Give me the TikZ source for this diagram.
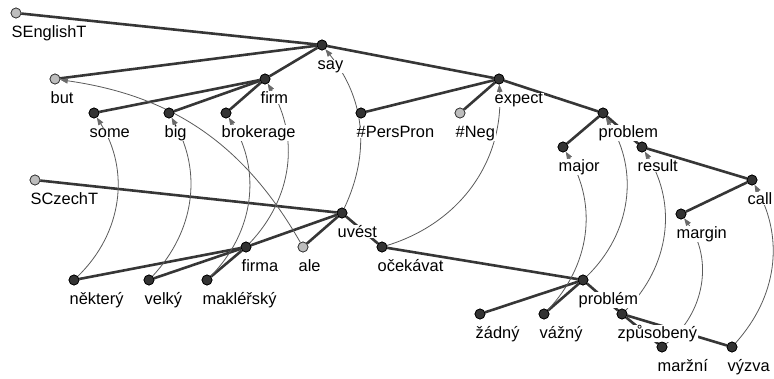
\documentclass[tikz,border=0pt]{standalone}
\usepackage{fontspec}
\setmainfont{Liberation Sans}
\usetikzlibrary{arrows.meta,calc}
\definecolor{edgecol}{HTML}{363636}
\definecolor{nodecol}{HTML}{333333}
\definecolor{graynode}{HTML}{BDBDBD}
\definecolor{arccol}{HTML}{5A5A5A}
\definecolor{tipcol}{HTML}{6A6A6A}
\tikzset{
  tnode/.style={circle,draw=black,line width=0.7pt,fill=nodecol,minimum size=10pt,inner sep=0pt},
  rnode/.style={tnode,fill=graynode,draw=nodecol},
  edge/.style={draw=edgecol,line width=2.6pt},
  alignarc/.style={draw=arccol,line width=0.8pt,-{Triangle[length=7.5pt,width=5.5pt,color=tipcol]}},
  lab/.style={anchor=base west,inner xsep=0.6pt,inner ysep=0.4pt,fill=white,font=\fontsize{16.4}{19}\selectfont,text=black}
}
\newcommand\lbl[2]{\node[lab] (#1-l) at ($(#1)+(-5.1,24.5)$) {#2};}
\begin{document}
\begin{tikzpicture}[x=1pt,y=-1pt]
\useasboundingbox (0,0) rectangle (774,378);
% English tree nodes
\node[rnode] (SEnglishT) at (16,13) {};
\node[tnode] (say) at (322,45) {};
\node[rnode] (but) at (55,79) {};
\node[tnode] (firm) at (265,79) {};
\node[tnode] (some) at (94,113) {};
\node[tnode] (big) at (169,113) {};
\node[tnode] (brokerage) at (226,113) {};
\node[tnode] (perspron) at (361,113) {};
\node[tnode] (expect) at (499,79) {};
\node[rnode] (neg) at (460,113) {};
\node[tnode] (problem) at (603,113) {};
\node[tnode] (major) at (563,147) {};
\node[tnode] (result) at (642,147) {};
\node[tnode] (call) at (752,180) {};
\node[tnode] (margin) at (681,214) {};
% Czech tree nodes
\node[rnode] (SCzechT) at (35,180) {};
\node[tnode] (uvest) at (342,213) {};
\node[tnode] (firma) at (246,247) {};
\node[rnode] (ale) at (303,247) {};
\node[tnode] (ocekavat) at (382,247) {};
\node[tnode] (nektery) at (74,280) {};
\node[tnode] (velky) at (149,280) {};
\node[tnode] (maklersky) at (207,280) {};
\node[tnode] (problemcz) at (583,280) {};
\node[tnode] (zadny) at (480,314) {};
\node[tnode] (vazny) at (544,314) {};
\node[tnode] (zpusobeny) at (622,314) {};
\node[tnode] (marzni) at (662,347) {};
\node[tnode] (vyzva) at (732,347) {};
% edges
\path[edge] (SEnglishT) -- (say);
\path[edge] (say) -- (but);
\path[edge] (say) -- (firm);
\path[edge] (say) -- (expect);
\path[edge] (firm) -- (some);
\path[edge] (firm) -- (big);
\path[edge] (firm) -- (brokerage);
\path[edge] (expect) -- (perspron);
\path[edge] (expect) -- (neg);
\path[edge] (expect) -- (problem);
\path[edge] (problem) -- (major);
\path[edge] (problem) -- (result);
\path[edge] (result) -- (call);
\path[edge] (call) -- (margin);
\path[edge] (SCzechT) -- (uvest);
\path[edge] (uvest) -- (firma);
\path[edge] (uvest) -- (ale);
\path[edge] (uvest) -- (ocekavat);
\path[edge] (firma) -- (nektery);
\path[edge] (firma) -- (velky);
\path[edge] (firma) -- (maklersky);
\path[edge] (ocekavat) -- (problemcz);
\path[edge] (problemcz) -- (zadny);
\path[edge] (problemcz) -- (vazny);
\path[edge] (problemcz) -- (zpusobeny);
\path[edge] (zpusobeny) -- (marzni);
\path[edge] (zpusobeny) -- (vyzva);
% alignment arcs
\path[alignarc] (nektery) to[bend right=39] (some);
\path[alignarc] (velky) to[bend right=36] (big);
\path[alignarc] (maklersky) to[bend right=38] (brokerage);
\path[alignarc] (firma) to[bend right=37] (firm);
\path[alignarc] (ale) to[bend right=26] (but);
\path[alignarc] (uvest) to[bend right=32] (say);
\path[alignarc] (ocekavat) to[bend right=38] (expect);
\path[alignarc] (problemcz) to[bend right=39] (problem);
\path[alignarc] (vazny) to[bend right=37] (major);
\path[alignarc] (zpusobeny) to[bend right=38] (result);
\path[alignarc] (marzni) to[bend right=44] (margin);
\path[alignarc] (vyzva) to[bend right=35] (call);
% labels
\lbl{SEnglishT}{SEnglishT}
\lbl{say}{say}
\lbl{but}{but}
\lbl{firm}{firm}
\lbl{some}{some}
\lbl{big}{big}
\lbl{brokerage}{brokerage}
\lbl{perspron}{\#PersPron}
\lbl{expect}{expect}
\lbl{neg}{\#Neg}
\lbl{problem}{problem}
\lbl{major}{major}
\lbl{result}{result}
\lbl{call}{call}
\lbl{margin}{margin}
\lbl{SCzechT}{SCzechT}
\lbl{uvest}{uvést}
\lbl{firma}{firma}
\lbl{ale}{ale}
\lbl{ocekavat}{očekávat}
\lbl{nektery}{některý}
\lbl{velky}{velký}
\lbl{maklersky}{makléřský}
\lbl{problemcz}{problém}
\lbl{zadny}{žádný}
\lbl{vazny}{vážný}
\lbl{zpusobeny}{způsobený}
\lbl{marzni}{maržní}
\lbl{vyzva}{výzva}
% redraw tree nodes on top
\foreach \n in {say,firm,some,big,brokerage,perspron,expect,problem,major,result,call,margin,uvest,firma,ocekavat,nektery,velky,maklersky,problemcz,zadny,vazny,zpusobeny,marzni,vyzva}
  \node[tnode] at (\n) {};
\foreach \n in {SEnglishT,but,neg,SCzechT,ale}
  \node[rnode] at (\n) {};
\end{tikzpicture}
\end{document}
